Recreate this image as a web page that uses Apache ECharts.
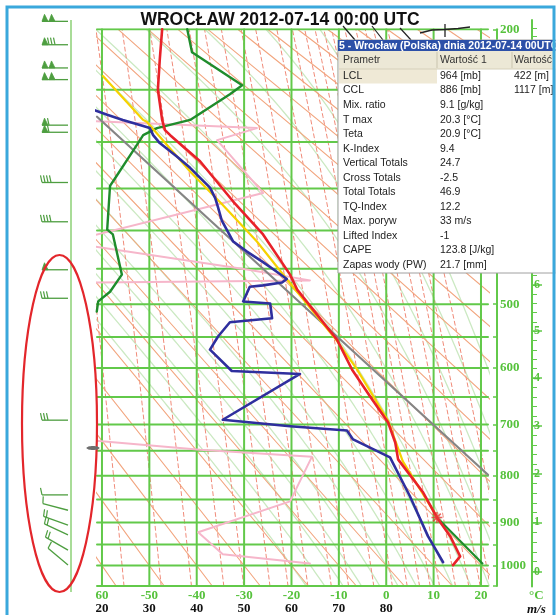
<!DOCTYPE html>
<html>
<head>
<meta charset="utf-8">
<script src="https://cdn.jsdelivr.net/npm/echarts@6.0.0/dist/echarts.min.js"></script>
<style>
html,body{margin:0;padding:0;background:#ffffff;}
#chart{width:560px;height:615px;}
</style>
</head>
<body>
<div id="chart"></div>
<script>
// ================= DATA =================
const titleText = 'WROCŁAW 2012-07-14 00:00 UTC';

// temperature profile (red): pressure [hPa] / temperature [°C]
const tempP = [200,224,250,262,278,288,293,320,365,405,458,479,554,603,649,696,734,767,835,889,931,978,999];
const tempT = [-47.3,-47.8,-48.2,-47.8,-47.3,-46.7,-45.6,-39.3,-32.3,-26.0,-20.3,-18.8,-10.4,-7.2,-3.4,0.4,1.9,2.5,7.8,10.7,13.5,15.6,14.1];

// dew point profile (blue)
const dewP = [268,273,278,283,286,293,301,315,327,349,361,372,388,414,427,441,454,464,469,473,475,496,499,521,527,549,570,605,610,691,703,711,728,763,843,931,992];
const dewT = [-62,-58.9,-55.6,-52.0,-49.9,-49.2,-47.8,-44.2,-41.4,-37.2,-36.1,-35.5,-34.7,-32.3,-29.4,-26.0,-23.1,-21.0,-22.0,-26.0,-28.8,-30.2,-24.5,-24.1,-33.0,-35.5,-37.2,-32.6,-18.2,-34.5,-20.3,-8.3,-7.0,0.8,5.0,8.8,12.0];

// parcel ascent above CCL (yellow)
const parP = [238,278,280,331,369,414,461,556,602,693,771,887];
const parT = [-59.8,-51.3,-50.5,-41.4,-34.5,-27.3,-21.4,-10.4,-6.2,0.4,3.5,10.7];

// dry ascent from surface (T max) to CCL (green, lower part)
const dryP = [995, 889];
const dryT = [20.3, 10.7];

// grey straight reference line
const greyP = [275, 798];
const greyT = [-61.05, 21.48];

// wind speed profile (dark green, m/s scale)
const spdP = [200,218,246,254,278,286,293,314,339,347,399,405,458,482,496,511];
const spdV = [38.0,39.0,49.6,47.0,38.6,31.6,28.7,25.9,22.7,21.7,21.1,22.3,24.2,21.7,19.2,18.9];

// pink profile
const pinkP = [279,286,298,355,408,419,451,466,469,729,748,762,854,922,973,995];
const pinkT = [-63,-27.3,-35.7,-26.0,-63,-63,-29.4,-16.1,-63,-63,-39.3,-15.7,-20.3,-39.7,-34.5,-16.1];

// CCL marker
const cclP = [889];
const cclT = [10.7];

// wind barbs (left column)
const barbP    = [194,212,231,241,283,290,343,389,451,491,691,839,872,905,927,962,997];
const barbPen  = [2,1,2,2,1,1,0,0,1,0,0,0,0,0,0,0,0];
const barbFull = [0,3,0,0,1,1,4,4,0,3,3,1,1,2,2,2,1];
const barbRot  = [0,0,0,0,0,0,0,0,0,0,0,0,-15,-20,-25,-30,-40];

// axes / ticks
const isoT = [-60,-50,-40,-30,-20,-10,0,10,20];
const isoP = [200,250,300,350,400,450,500,550,600,650,700,750,800,850,900,950,1000,1050];
const tempLabels = [-60,-50,-40,-30,-20,-10,0,10,20];
const speedLabels = [20,30,40,50,60,70,80];
const presLabels = [200,300,400,500,600,700,800,900,1000];
const kmLabels = [0,1,2,3,4,5,6,7,8,9,10,11,12];

// thermodynamic background families
const thetaList = [-60,-50,-40,-30,-20,-10,0,10,20,30,40,50,60,70,80,90,100,110,120,130,140,150,160,170,180,190,200];
const mixList = [0.02,0.05,0.1,0.2,0.3,0.5,0.7,1,1.5,2,3,4,5,6,7,8,10,12,14,16,20];
const moistList = [-20,-16,-12,-8,-4,0,4,8,12,16,20,24,28,32,36];

// table
const tabTitle = '5 - Wrocław (Polska) dnia 2012-07-14 00UTC';
const tabHead = ['Prametr','Wartość 1','Wartość'];
const tabParams = ['LCL','CCL','Mix. ratio','T max','Teta','K-Index','Vertical Totals','Cross Totals','Total Totals','TQ-Index','Max. poryw','Lifted Index','CAPE','Zapas wody (PW)'];
const tabVal1 = ['964 [mb]','886 [mb]','9.1 [g/kg]','20.3 [°C]','20.9 [°C]','9.4','24.7','-2.5','46.9','12.2','33 m/s','-1','123.8 [J/kg]','21.7 [mm]'];
const tabVal2 = ['422 [m]','1117 [m]','','','','','','','','','','','',''];

// ================= helpers =================
const KAPPA = 0.286;
const Z = p => Math.pow(p / 1000, KAPPA);
const zTop = Z(200), zBot = Z(1050);
const prof = (Ps, Xs) => Ps.map((p, i) => [Xs[i], Z(p)]);

function es(tc){ return 6.112 * Math.exp(17.67 * tc / (tc + 243.5)); }
function mixT(w, p){ const e = w * p / (622 + w); const a = Math.log(e / 6.112); return 243.5 * a / (17.67 - a); }
function dTdp(T, p){
  const Rd = 287.04, cp = 1005.7, L = 2.501e6, eps = 0.622;
  const e = es(T - 273.15); const rs = eps * e / (p - e);
  return (Rd * T + L * rs) / (p * (cp + L * L * rs * eps / (Rd * T * T)));
}
function moistLine(tw){
  const up = [], dn = [];
  let T = tw + 273.15, p = 1000;
  up.push([tw, Z(1000)]);
  while (p > 200){
    const dp = -5;
    const k1 = dTdp(T, p), k2 = dTdp(T + k1 * dp / 2, p + dp / 2);
    T += k2 * dp; p += dp; up.push([T - 273.15, Z(p)]);
  }
  T = tw + 273.15; p = 1000;
  while (p < 1050){
    const dp = 5;
    const k1 = dTdp(T, p), k2 = dTdp(T + k1 * dp / 2, p + dp / 2);
    T += k2 * dp; p += dp; dn.push([T - 273.15, Z(p)]);
  }
  return dn.reverse().concat(up);
}
const stdP = h => 1013.25 * Math.pow(1 - 0.0225577 * h, 5.25588);

// layout (pixels)
const G_LEFT = 97, G_RIGHT_X = 488, G_TOP = 29.3, G_BOT = 586.6;
const T_MIN = -61.05, T_MAX = 21.48;
const SPD_OFF = 80; // speed = T + 80 on the lower scale
const KM_X = 532;

const GREEN = '#62c94a';
const LABEL_GREEN = '#56c23c';

function line(data, color, width, z, opts){
  opts = opts || {};
  return {
    type: 'line', data: data, xAxisIndex: opts.x || 0, yAxisIndex: opts.y || 0,
    symbol: 'none', showSymbol: false, silent: true, animation: false, clip: true,
    lineStyle: { color: color, width: width, type: opts.dash || 'solid', cap: 'round', join: 'round' },
    z: z
  };
}

const series = [];
// moist adiabats (light green)
moistList.forEach(tw => series.push(line(moistLine(tw), '#cbe9c2', 1.3, 1)));
// mixing ratio (red dashed)
mixList.forEach(w => {
  const d = [];
  for (let p = 1050; p >= 200; p -= 25) d.push([mixT(w, p), Z(p)]);
  series.push(line(d, '#f08a78', 1, 2, { dash: [4, 3] }));
});
// dry adiabats (orange)
thetaList.forEach(th => {
  const d = [[(th + 273.15) * Z(1050) - 273.15, Z(1050)], [(th + 273.15) * Z(200) - 273.15, Z(200)]];
  series.push(line(d, '#f2a57e', 1.1, 3));
});
// green grid
isoT.forEach(t => series.push(line([[t, zBot], [t, zTop]], GREEN, 2, 4)));
isoP.forEach(p => series.push(line([[T_MIN, Z(p)], [T_MAX, Z(p)]], GREEN, 2, 4)));

// data curves
series.push(line(prof(pinkP, pinkT), '#f6b6ca', 2, 6));
series.push(line(prof(greyP, greyT), '#858585', 2.2, 7));
series.push(line(prof(spdP, spdV), '#1f8c2c', 2.4, 8, { x: 1 }));
series.push(line(prof(dryP, dryT), '#1f8c2c', 2.2, 8));
series.push(line(prof(parP, parT), '#f6d200', 2.2, 9));
series.push(line(prof(dewP, dewT), '#2f2f9e', 2.6, 10));
series.push(line(prof(tempP, tempT), '#e8222a', 2.6, 11));
series.push({
  type: 'scatter', data: prof(cclP, cclT), xAxisIndex: 0, yAxisIndex: 0, silent: true, animation: false,
  symbol: 'path://M0,5L10,5M5,0L5,10M1.5,1.5L8.5,8.5M1.5,8.5L8.5,1.5', symbolSize: 11,
  itemStyle: { color: 'rgba(0,0,0,0)', borderColor: '#e83a3a', borderWidth: 1.6 }, z: 12
});

// wind barbs
const BARB_COL = '#4e9e40';
series.push({
  type: 'custom', xAxisIndex: 2, yAxisIndex: 4, silent: true, animation: false, clip: false, z: 5,
  data: barbP.map((p, i) => [0.95, Z(p), barbPen[i], barbFull[i], barbRot[i]]),
  encode: { x: 0, y: 1 },
  renderItem: function (params, api) {
    const c = api.coord([api.value(0), api.value(1)]);
    const nPen = api.value(2), nFull = api.value(3), rot = api.value(4);
    const L = 26;
    const ch = [{ type: 'line', shape: { x1: 0, y1: 0, x2: -L, y2: 0 }, style: { stroke: BARB_COL, lineWidth: 1.3 } }];
    let xp = -L;
    for (let k = 0; k < nPen; k++) {
      ch.push({ type: 'polygon', shape: { points: [[xp, 0], [xp + 2.5, -7], [xp + 6, 0]] }, style: { fill: BARB_COL, stroke: BARB_COL, lineWidth: 0.8 } });
      xp += 7;
    }
    for (let k = 0; k < nFull; k++) {
      ch.push({ type: 'line', shape: { x1: xp, y1: 0, x2: xp - 1.5, y2: -7 }, style: { stroke: BARB_COL, lineWidth: 1.2 } });
      xp += 3;
    }
    return { type: 'group', x: c[0], y: c[1], rotation: rot * Math.PI / 180, children: ch };
  }
});

// ================= axes =================
const kmVals = kmLabels.map(h => Z(stdP(h)));
const kmMinor = [];
for (let h = 0; h <= 12.001; h += 0.2) kmMinor.push(Z(stdP(h)));
const kmTopExt = zTop - (G_TOP - 20) * (zBot - zTop) / (G_BOT - G_TOP);

const serifBold = { fontFamily: '"Liberation Serif", "DejaVu Serif", serif', fontWeight: 'bold' };

const option = {
  backgroundColor: '#ffffff',
  animation: false,
  title: {
    text: titleText, left: 'center', top: 6,
    textStyle: { fontFamily: '"Liberation Sans", Arial, sans-serif', fontWeight: 'bold', fontSize: 17.5, color: '#111' }
  },
  grid: [
    { left: G_LEFT, top: G_TOP, width: G_RIGHT_X - G_LEFT, height: G_BOT - G_TOP },
    { left: 30, top: G_TOP, width: 40, height: G_BOT - G_TOP },
    { left: KM_X - 20, top: 20, width: 20, height: G_BOT - 20 }
  ],
  xAxis: [
    { type: 'value', gridIndex: 0, min: T_MIN, max: T_MAX, axisLine: { show: false, onZero: false }, axisTick: { show: false }, splitLine: { show: false },
      axisLabel: { customValues: tempLabels, margin: 3, color: LABEL_GREEN, fontSize: 13, lineHeight: 13, ...serifBold,
        formatter: v => (Math.round(v) === -60 ? '60' : String(Math.round(v))) } },
    { type: 'value', gridIndex: 0, position: 'bottom', offset: 13, min: T_MIN + SPD_OFF, max: T_MAX + SPD_OFF,
      axisLine: { show: false, onZero: false }, axisTick: { show: false }, splitLine: { show: false },
      axisLabel: { customValues: speedLabels, margin: 3, color: '#111', fontSize: 13, lineHeight: 13, ...serifBold } },
    { type: 'value', gridIndex: 1, min: 0, max: 1, show: false, axisLine: { onZero: false } },
    { type: 'value', gridIndex: 2, min: 0, max: 1, show: false, axisLine: { onZero: false } }
  ],
  yAxis: [
    { type: 'value', gridIndex: 0, min: zTop, max: zBot, inverse: true, show: false, axisLine: { onZero: false } },
    { type: 'value', gridIndex: 0, position: 'right', offset: 9, min: zTop, max: zBot, inverse: true,
      splitLine: { show: false },
      axisLine: { show: true, onZero: false, lineStyle: { color: GREEN, width: 2 } },
      axisTick: { show: true, inside: true, length: 4, customValues: isoP.map(Z), lineStyle: { color: GREEN, width: 1.5 } },
      axisLabel: { customValues: presLabels.map(Z), margin: 3, color: LABEL_GREEN, fontSize: 13, lineHeight: 13, padding: [7, 0, 0, 0], ...serifBold,
        formatter: v => String(Math.round(1000 * Math.pow(v, 1 / KAPPA) / 10) * 10) } },
    { type: 'value', gridIndex: 2, position: 'right', offset: 0, min: kmTopExt, max: zBot, inverse: true,
      splitLine: { show: false },
      axisLine: { show: true, onZero: false, lineStyle: { color: GREEN, width: 2 } },
      axisTick: { show: true, length: 10, customValues: kmVals, lineStyle: { color: GREEN, width: 1.5 } },
      axisLabel: { customValues: kmVals, margin: 2, color: LABEL_GREEN, fontSize: 12, lineHeight: 12, padding: [10, 0, 0, 0], ...serifBold,
        formatter: v => { let bi = 0, bd = 1e9; kmVals.forEach((k, i) => { const d = Math.abs(k - v); if (d < bd) { bd = d; bi = i; } }); return String(kmLabels[bi]); } } },
    { type: 'value', gridIndex: 2, position: 'right', offset: 0, min: kmTopExt, max: zBot, inverse: true,
      splitLine: { show: false }, axisLine: { show: false, onZero: false }, axisLabel: { show: false },
      axisTick: { show: true, length: 5, customValues: kmMinor, lineStyle: { color: GREEN, width: 1 } } },
    { type: 'value', gridIndex: 1, min: zTop, max: zBot, inverse: true, show: false, axisLine: { onZero: false } }
  ],
  series: series,
  graphic: { elements: buildGraphics() }
};

function buildGraphics(){
  const g = [];
  const Z0 = 100;
  // barb column line
  g.push({ type: 'line', shape: { x1: 71, y1: 20, x2: 71, y2: 592 }, style: { stroke: '#a9dc98', lineWidth: 2 }, z: 1, silent: true });
  // km scale line
  g.push({ type: 'line', shape: { x1: KM_X, y1: 20, x2: KM_X, y2: G_BOT }, style: { stroke: GREEN, lineWidth: 2 }, z: 5, silent: true });
  // red ellipse annotation and grey marker
  g.push({ type: 'ellipse', shape: { cx: 59.5, cy: 423.5, rx: 37.5, ry: 168.5 }, style: { fill: null, stroke: '#e3262b', lineWidth: 2.2 }, z: Z0, silent: true });
  g.push({ type: 'ellipse', shape: { cx: 93, cy: 448, rx: 6.5, ry: 2 }, style: { fill: '#6e6e6e' }, z: Z0, silent: true });
  // unit labels
  g.push({ type: 'text', x: 529, y: 596, style: { text: '°C', fill: LABEL_GREEN, font: 'bold 13px "Liberation Serif"', verticalAlign: 'middle' }, z: Z0, silent: true });
  g.push({ type: 'text', x: 527, y: 609.5, style: { text: 'm/s', fill: '#111', font: 'italic bold 13px "Liberation Serif"', verticalAlign: 'middle' }, z: Z0, silent: true });
  // small symbol at top
  g.push({ type: 'polyline', shape: { points: [[420, 33], [432, 30], [445, 29.5], [458, 28.5], [470, 27]] }, style: { stroke: '#222', lineWidth: 1.3, fill: null }, z: Z0, silent: true });
  g.push({ type: 'line', shape: { x1: 445, y1: 24, x2: 445, y2: 37 }, style: { stroke: '#222', lineWidth: 1.3 }, z: Z0, silent: true });
  [[343, 26, 355, 40], [372, 26, 383, 40], [400, 28, 411, 40]].forEach(s =>
    g.push({ type: 'line', shape: { x1: s[0], y1: s[1], x2: s[2], y2: s[3] }, style: { stroke: '#222', lineWidth: 1.2 }, z: Z0, silent: true }));
  // table
  const TX = 338, TY = 40, TW = 218, TH = 233;
  g.push({ type: 'rect', shape: { x: TX, y: TY, width: TW, height: TH }, style: { fill: '#ffffff', stroke: '#a0a0a0', lineWidth: 1 }, z: Z0 + 1, silent: true });
  g.push({ type: 'rect', shape: { x: TX, y: TY, width: TW, height: 11 }, style: { fill: '#2c50a8' }, z: Z0 + 2, silent: true });
  g.push({ type: 'text', x: TX + 1, y: TY + 5.8, style: { text: tabTitle, fill: '#ffffff', font: 'bold 10.5px "Liberation Sans"', verticalAlign: 'middle' }, z: Z0 + 3, silent: true });
  g.push({ type: 'rect', shape: { x: TX + 1, y: 51, width: TW - 1, height: 18 }, style: { fill: '#ece8d6' }, z: Z0 + 2, silent: true });
  g.push({ type: 'rect', shape: { x: TX + 1, y: 69, width: 98, height: 14.5 }, style: { fill: '#efe9d6' }, z: Z0 + 2, silent: true });
  [437, 512].forEach(x => g.push({ type: 'line', shape: { x1: x, y1: 52, x2: x, y2: 68 }, style: { stroke: '#c9c4ae', lineWidth: 1 }, z: Z0 + 3, silent: true }));
  g.push({ type: 'line', shape: { x1: TX + 1, y1: 69, x2: TX + TW, y2: 69 }, style: { stroke: '#d6d1bb', lineWidth: 1 }, z: Z0 + 3, silent: true });
  const colX = [343, 440, 514];
  const font = '10.5px "Liberation Sans"';
  tabHead.forEach((t, i) => g.push({ type: 'text', x: colX[i], y: 60, style: { text: t, fill: '#333', font: font, verticalAlign: 'middle' }, z: Z0 + 4, silent: true }));
  tabParams.forEach((t, i) => {
    const y = 76 + i * 14.55;
    g.push({ type: 'text', x: colX[0], y: y, style: { text: t, fill: '#222', font: font, verticalAlign: 'middle' }, z: Z0 + 4, silent: true });
    g.push({ type: 'text', x: colX[1], y: y, style: { text: tabVal1[i], fill: '#222', font: font, verticalAlign: 'middle' }, z: Z0 + 4, silent: true });
    if (tabVal2[i]) g.push({ type: 'text', x: colX[2], y: y, style: { text: tabVal2[i], fill: '#222', font: font, verticalAlign: 'middle' }, z: Z0 + 4, silent: true });
  });
  // frame
  g.push({ type: 'rect', shape: { x: 555.5, y: 0, width: 10, height: 615 }, style: { fill: '#ffffff' }, z: Z0 + 8, silent: true });
  g.push({ type: 'rect', shape: { x: 7, y: 7, width: 547, height: 640 }, style: { fill: null, stroke: '#3aa8dc', lineWidth: 3 }, z: Z0 + 9, silent: true });
  return g;
}

const chart = echarts.init(document.getElementById('chart'), null, { renderer: 'canvas' });
chart.setOption(option);
</script>
</body>
</html>
